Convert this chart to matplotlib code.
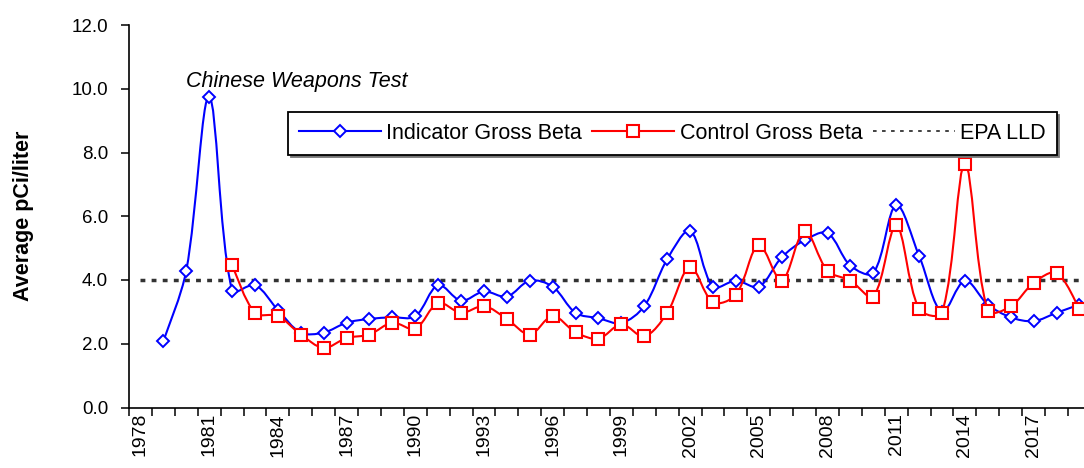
import numpy as np
import matplotlib
matplotlib.use('Agg')
import matplotlib.pyplot as plt
from matplotlib.path import Path
from matplotlib.patches import PathPatch
from matplotlib.lines import Line2D

# ── style ──────────────────────────────────────────────────────────────
plt.rcParams.update({
    'font.family': 'Liberation Sans',
    'font.size': 13.5,
})
BLUE = '#0000FF'
RED = '#FF0000'
DARK = '#333333'

# ── data (average pCi/liter per year) ─────────────────────────────────
years_all = np.arange(1978, 2020)
label_years = np.arange(1978, 2020, 3)

indicator_years = np.arange(1979, 2020)
indicator_beta = [2.08, 4.29, 9.75, 3.67, 3.84, 3.06, 2.35, 2.35, 2.66, 2.78,
                  2.83, 2.86, 3.84, 3.35, 3.64, 3.48, 3.98, 3.79, 2.97, 2.80,
                  2.65, 3.18, 4.65, 5.54, 3.79, 3.98, 3.79, 4.71, 5.25, 5.47,
                  4.45, 4.22, 6.35, 4.76, 3.00, 3.98, 3.23, 2.83, 2.71, 2.97,
                  3.23]

control_years = np.arange(1982, 2020)
control_beta = [4.47, 2.97, 2.87, 2.29, 1.87, 2.18, 2.29, 2.66, 2.47, 3.28,
                2.97, 3.18, 2.78, 2.29, 2.87, 2.36, 2.16, 2.61, 2.23, 2.97,
                4.41, 3.30, 3.54, 5.10, 3.98, 5.54, 4.29, 3.98, 3.48, 5.71,
                3.09, 2.97, 7.64, 3.04, 3.17, 3.91, 4.22, 3.09]

epa_lld = 4.0

# pixel scale of the plot area, used to weight the smoothing like Excel does
PX_PER_YEAR = 22.9
PX_PER_UNIT = 31.9


def smooth_path(x, y):
    """Smoothed line: cubic Bezier segments through the points,
    tangents weighted by neighbouring segment lengths (on screen)."""
    pts = np.column_stack([x, y]).astype(float)
    scr = pts * [PX_PER_YEAR, PX_PER_UNIT]
    n = len(pts)
    tang = np.zeros_like(pts)
    for i in range(n):
        a = pts[max(i - 1, 0)]
        b = pts[min(i + 1, n - 1)]
        tang[i] = b - a
    verts = [pts[0]]
    codes = [Path.MOVETO]
    for i in range(n - 1):
        seg = np.hypot(*(scr[i + 1] - scr[i]))
        prev = np.hypot(*(scr[i] - scr[i - 1])) if i > 0 else seg
        nxt = np.hypot(*(scr[i + 2] - scr[i + 1])) if i + 2 < n else seg
        f1 = seg / (prev + seg) / 3 if i > 0 else 1 / 3
        f2 = seg / (seg + nxt) / 3 if i + 2 < n else 1 / 3
        if i == 0:
            f1 = 1 / 6
        if i + 2 >= n:
            f2 = 1 / 6
        c1 = pts[i] + tang[i] * f1
        c2 = pts[i + 1] - tang[i + 1] * f2
        verts += [c1, c2, pts[i + 1]]
        codes += [Path.CURVE4] * 3
    return Path(verts, codes)


fig = plt.figure(figsize=(10.84, 4.68), dpi=100)
ax = fig.add_axes([129 / 1084, 60.5 / 468, 955 / 1084, 382.5 / 468])

# EPA lower limit of detection
ax.plot(years_all, np.full(len(years_all), epa_lld), color=DARK,
        lw=2.5, ls=(0, (1.4, 1.8)), zorder=1)

# indicator (blue) then control (red) on top
ax.add_patch(PathPatch(smooth_path(indicator_years, indicator_beta),
                       fill=False, edgecolor=BLUE, lw=1.5, zorder=2))
ax.plot(indicator_years, indicator_beta, ls='none', marker='D', ms=6.2,
        mfc='white', mec=BLUE, mew=1.4, zorder=3)

ax.add_patch(PathPatch(smooth_path(control_years, control_beta),
                       fill=False, edgecolor=RED, lw=1.5, zorder=4))
ax.plot(control_years, control_beta, ls='none', marker='s', ms=8.6,
        mfc='white', mec=RED, mew=1.5, zorder=5)

ax.text(1980.0, 10.06, 'Chinese Weapons Test', style='italic',
        fontsize=15.5, ha='left', va='baseline')

# axes
ax.set_xlim(1977.5, 2019.2)
ax.set_ylim(0, 12)
ax.set_yticks(np.arange(0, 12.1, 2))
ax.set_yticklabels([f'{v:.1f}' for v in np.arange(0, 12.1, 2)])
ax.set_xticks(label_years)
ax.set_xticklabels([str(y) for y in label_years], rotation=90, fontsize=14)
ax.set_xticks(np.arange(1977.5, 2019, 1), minor=True)
ax.tick_params(axis='x', which='major', length=0, pad=4)
ax.tick_params(axis='x', which='minor', length=6, width=1.1, direction='out')
ax.tick_params(axis='y', length=6, width=1.1, direction='out', pad=9)
for s in ('top', 'right'):
    ax.spines[s].set_visible(False)
for s in ('left', 'bottom'):
    ax.spines[s].set_linewidth(1.2)

ax.set_ylabel('Average pCi/liter', fontsize=15.5, fontweight='bold')
ax.yaxis.set_label_coords(-0.099, 0.5)

handles = [
    Line2D([], [], color=BLUE, lw=1.5, marker='D', ms=6.2, mfc='white',
           mec=BLUE, mew=1.4),
    Line2D([], [], color=RED, lw=1.5, marker='s', ms=8.6, mfc='white',
           mec=RED, mew=1.5),
    Line2D([], [], color=DARK, lw=1.3, ls=(0, (2, 3))),
]
labels = ['Indicator Gross Beta', 'Control Gross Beta', 'EPA LLD']
leg = ax.legend(handles, labels, loc='upper left',
                bbox_to_anchor=(0.1665, 0.7725), ncol=3, fontsize=15.5,
                frameon=True, fancybox=False,
                shadow={'color': '#777777', 'alpha': 1.0},
                handlelength=3.8, handletextpad=0.25, columnspacing=0.5,
                borderpad=0.5, borderaxespad=0)
leg.get_frame().set_edgecolor('black')
leg.get_frame().set_linewidth(1.3)
leg.get_frame().set_alpha(1.0)

fig.savefig('out.png', dpi=100)
plt.close(fig)
